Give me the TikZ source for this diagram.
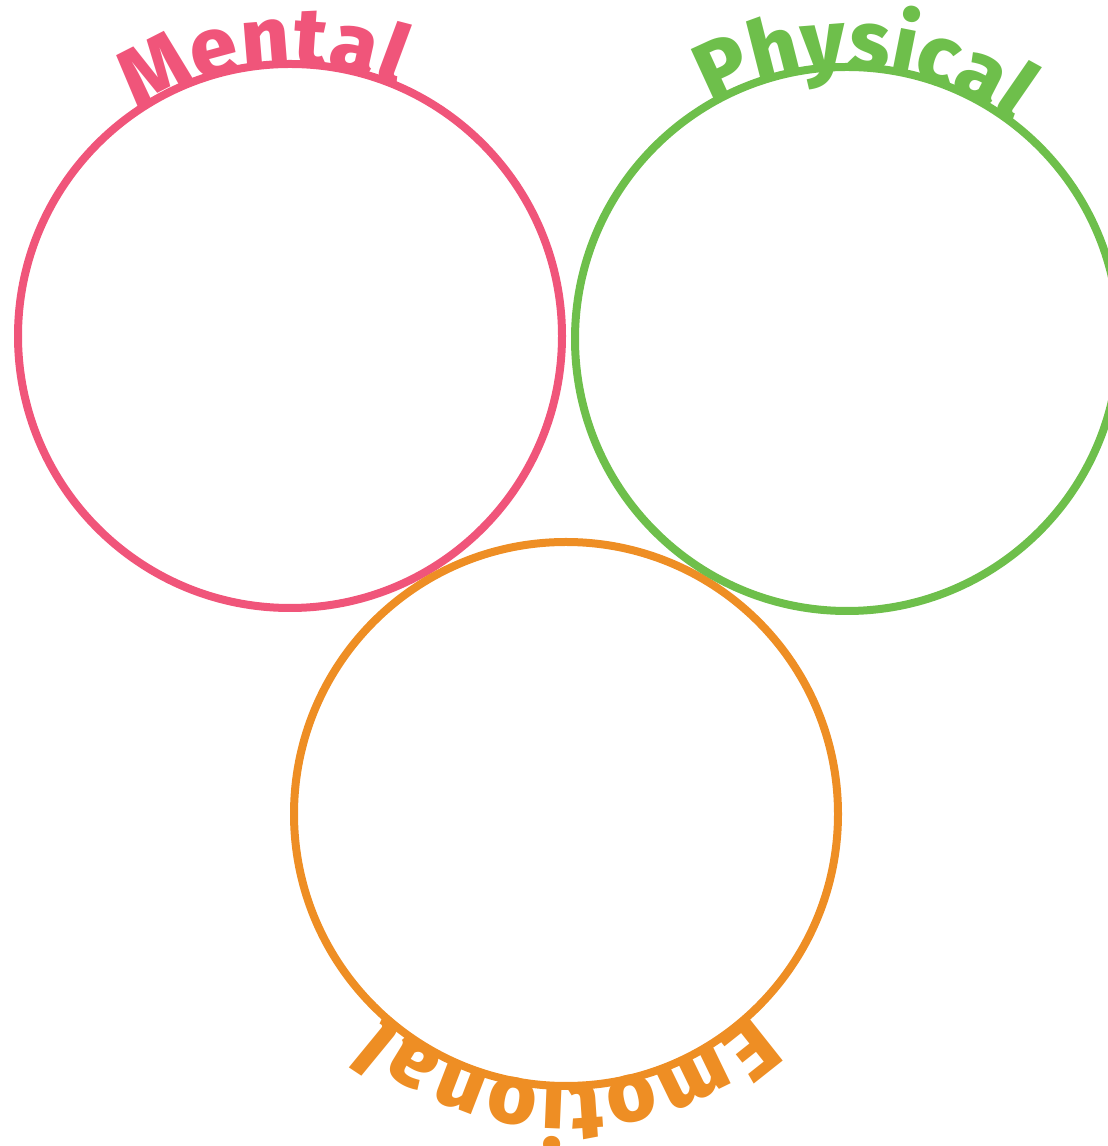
\documentclass[tikz,border=0pt]{standalone}
\usepackage{fontspec}
\usepackage{tikz}
\usetikzlibrary{decorations.text}
\newfontfamily\ringfont{Fira Sans}[UprightFont=* ExtraBold]
\definecolor{mentalpink}{HTML}{F0557A}
\definecolor{physgreen}{HTML}{6EBF4B}
\definecolor{emoorange}{HTML}{EE8E24}

\tikzset{
  ring/.style={circle, draw=#1, line width=8pt, minimum size=544pt, inner sep=0pt},
  ringlabel/.style={decorate, decoration={text along path, raise=-2pt,
    text align={fit to path}, text color=#1}}
}

\begin{document}
\begin{tikzpicture}[x=1pt,y=1pt]
  \useasboundingbox (0,0) rectangle (1108,1146);
  % the three rings, drawn in the order they overlap
  \node[ring=mentalpink] (mental) at (290,810) {};
  \node[ring=emoorange] (emotional) at (566,332) {};
  \node[ring=physgreen] (physical) at (847,807) {};
  % labels bent round the rings
  \path[ringlabel=mentalpink, decoration={text={|\ringfont\fontsize{84}{96}\selectfont|Mental}}]
    ([shift={(124:272)}]mental.center) arc[start angle=124, end angle=67, radius=272];
  \path[ringlabel=physgreen, decoration={text={|\ringfont\fontsize{84}{96}\selectfont|Physical}}]
    ([shift={(120:272)}]physical.center) arc[start angle=120, end angle=54, radius=272];
  \path[ringlabel=emoorange, decoration={text={|\ringfont\fontsize{84}{96}\selectfont|Emotional}}]
    ([shift={(-47:272)}]emotional.center) arc[start angle=-47, end angle=-132, radius=272];
\end{tikzpicture}
\end{document}
